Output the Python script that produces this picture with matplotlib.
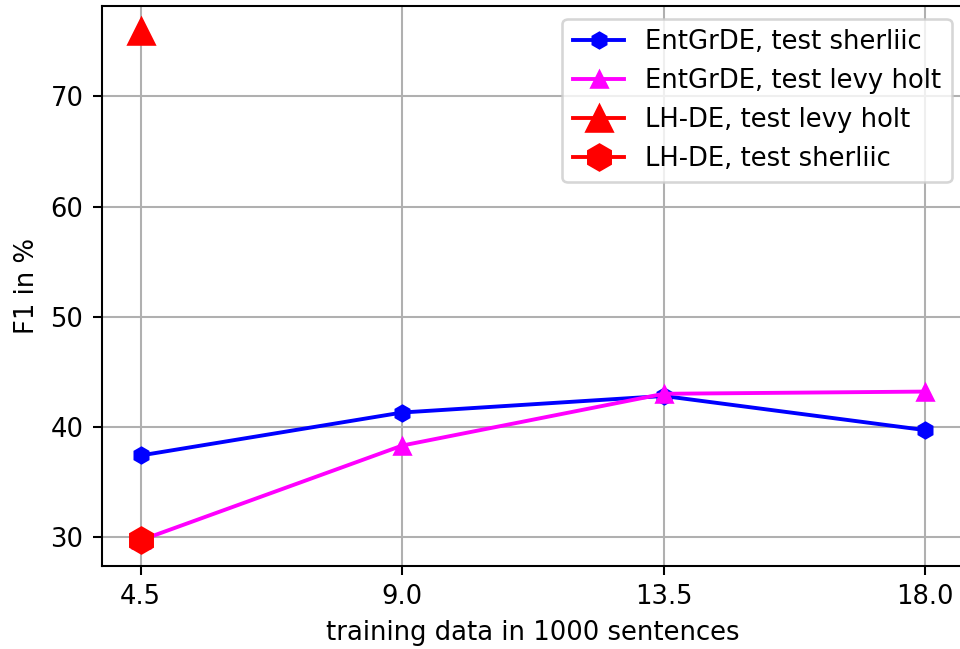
import matplotlib
matplotlib.use('Agg')
import matplotlib.pyplot as plt

# training data size (in 1000 sentences)
train_sizes = [4.5, 9.0, 13.5, 18.0]

# EntGrDE F1 scores
entgrde_sherliic = [37.4, 41.3, 42.8, 39.7]
entgrde_levyholt = [29.7, 38.3, 43.0, 43.2]

# LH-DE, only at the smallest training size
lhde_x = [4.5]
lhde_levyholt = [75.9]
lhde_sherliic = [29.7]

DPI = 186
fig = plt.figure(figsize=(960 / DPI, 649 / DPI), dpi=DPI)
ax = fig.add_axes([101.5 / 960, 83.3 / 649, 863 / 960, 559.7 / 649])

ax.plot(train_sizes, entgrde_sherliic, color='blue', marker='h', markersize=6,
        label='EntGrDE, test sherliic')
ax.plot(train_sizes, entgrde_levyholt, color='magenta', marker='^', markersize=6,
        label='EntGrDE, test levy holt')
ax.plot(lhde_x, lhde_levyholt, color='red', marker='^', markersize=10,
        label='LH-DE, test levy holt')
ax.plot(lhde_x, lhde_sherliic, color='red', marker='h', markersize=10,
        label='LH-DE, test sherliic')

ax.set_xticks(train_sizes)
ax.set_xlabel('training data in 1000 sentences')
ax.set_ylabel('F1 in %')
ax.grid(True)
ax.legend(loc='upper right')

fig.savefig('out.png', dpi=DPI)
